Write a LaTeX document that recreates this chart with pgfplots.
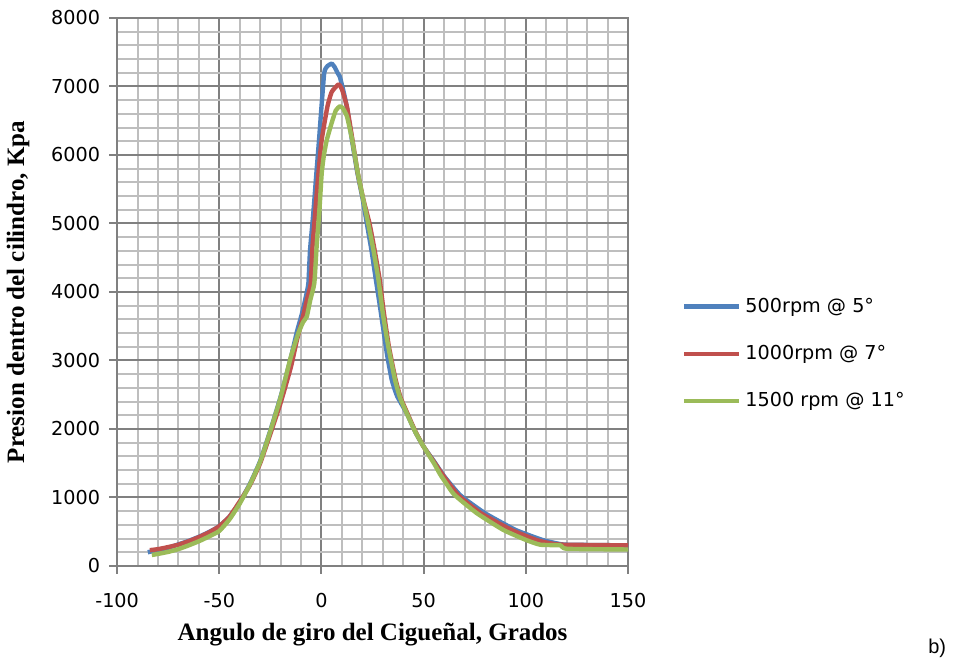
\documentclass[border=0pt]{standalone}
\usepackage{fontspec}
\setmainfont{DejaVu Sans}
\newfontfamily\timesb{Liberation Serif}
\newfontfamily\arial{Liberation Sans}
\usepackage{pgfplots}
\pgfplotsset{compat=1.18}
\usepackage{pgfplotstable}

\definecolor{s500}{RGB}{79,129,189}
\definecolor{s1000}{RGB}{192,80,77}
\definecolor{s1500}{RGB}{155,187,89}
\definecolor{majgrid}{RGB}{128,128,128}
\definecolor{mingrid}{RGB}{190,190,190}

% angle (deg)  pressure (kPa)
\pgfplotstableread{
x y
-85 200
-80 230
-75 265
-70 315
-65 365
-60 425
-55 495
-50 580
-45 720
-40 930
-35 1200
-30 1530
-25 1980
-20 2470
-15 3040
-12 3420
-9.5 3690
-7.5 3950
-6.4 4130
-5.6 4610
-4 5150
-2.5 5730
-1.2 6220
0 6705
1.3 7190
2 7260
3 7300
5 7335
6.5 7280
8 7190
9 7140
11 6900
12.4 6700
15 6200
17.5 5750
20 5380
22.2 5000
24.5 4600
26.5 4200
28.3 3850
30.3 3445
32 3100
34.4 2715
37 2480
41.7 2230
46 1950
50 1740
55 1530
60 1310
68 1030
80 770
95 525
108 380
115 330
120 310
150 300
}\tblA

\pgfplotstableread{
x y
-84 230
-80 245
-75 275
-70 310
-65 360
-60 420
-55 490
-50 580
-45 720
-40 940
-35 1180
-30 1500
-25 1930
-20 2380
-15 2900
-12 3300
-9 3650
-7 3900
-5.2 4130
-4.5 4610
-3.5 5000
-1.5 5730
0.1 6220
2.9 6705
5 6920
8.3 7030
10 6960
12.5 6700
15 6250
17.8 5730
20.5 5350
23.5 5000
26 4610
28.5 4175
30.5 3700
33 3200
36.3 2715
38.8 2450
42 2230
46 1960
50 1740
55 1520
60 1300
67 1030
78 770
93 525
105 380
112 330
118 310
150 300
}\tblB

\pgfplotstableread{
x y
-83 160
-80 175
-75 205
-70 245
-65 300
-60 360
-55 430
-50 510
-45 680
-40 910
-35 1190
-30 1520
-25 1970
-20 2460
-15 3050
-11.3 3400
-9 3560
-7.2 3640
-5.5 3880
-3.5 4130
-2.3 4700
-1 5200
0.1 5730
1.2 6000
2.6 6220
5 6470
7 6650
9 6710
10.5 6680
12.5 6560
15 6220
17.8 5730
20.5 5340
23 4980
25.5 4600
27.9 4175
30 3690
32.7 3200
36 2715
38.5 2450
41.7 2230
46 1950
50 1740
55 1500
58 1340
60 1250
65 1040
76 770
89 525
100 380
107 310
117 300
120 250
150 240
}\tblC

\begin{document}
\begin{tikzpicture}
\begin{axis}[
    at={(0,0)}, anchor=south west,
    scale only axis,
    width=255.5pt, height=274pt,
    xmin=-100, xmax=150,
    ymin=0, ymax=8000,
    xtick={-100,-50,...,150},
    xticklabels={-100,-50,0,50,100,150},
    ytick={0,1000,...,8000},
    yticklabels={0,1000,2000,3000,4000,5000,6000,7000,8000},
    minor x tick num=4,
    minor y tick num=4,
    grid=both,
    major grid style={draw=majgrid, line width=1pt},
    minor grid style={draw=mingrid, line width=1pt},
    axis line style={draw=majgrid, line width=1pt},
    xtick pos=left, ytick pos=left,
    tick align=outside,
    major tick length=4pt,
    minor tick length=0pt,
    tick style={draw=majgrid, line width=1pt},
    tick label style={font=\fontsize{9.6}{11}\selectfont, text=black},
    xticklabel style={yshift=-6pt},
    yticklabel style={xshift=-1pt},
    xlabel={\timesb\bfseries Angulo de giro del Cigueñal, Grados},
    ylabel={\timesb\bfseries Presion dentro del cilindro, Kpa},
    label style={font=\fontsize{12.5}{14}\selectfont},
    xlabel style={at={(rel axis cs:0.5,-0.126)}, anchor=center},
    ylabel style={at={(rel axis cs:-0.194,0.5)}, anchor=center},
    legend cell align=left,
    legend style={at={(rel axis cs:1.105,0.387)}, anchor=west, draw=none, fill=none,
        font=\fontsize{9.6}{11}\selectfont, row sep=11pt, inner sep=0pt},
    legend image code/.code={\draw[#1, line width=2.2pt] (0pt,0pt) -- (27.5pt,0pt);},
    clip=false,
]
\addplot[s500, line width=2.2pt, line join=round, smooth, tension=0.3] table[x=x, y=y] {\tblA};
\addplot[s1000, line width=2.2pt, line join=round, smooth, tension=0.3] table[x=x, y=y] {\tblB};
\addplot[s1500, line width=2.2pt, line join=round, smooth, tension=0.3] table[x=x, y=y] {\tblC};
\legend{500rpm @ 5°, 1000rpm @ 7°, 1500 rpm @ 11°}
\node[font=\arial\fontsize{10}{12}\selectfont, anchor=center] at (rel axis cs:1.605,-0.150) {b)};
\end{axis}
\path (-58.5pt,-50.5pt) rectangle (419.5pt,283pt);
\end{tikzpicture}
\end{document}
